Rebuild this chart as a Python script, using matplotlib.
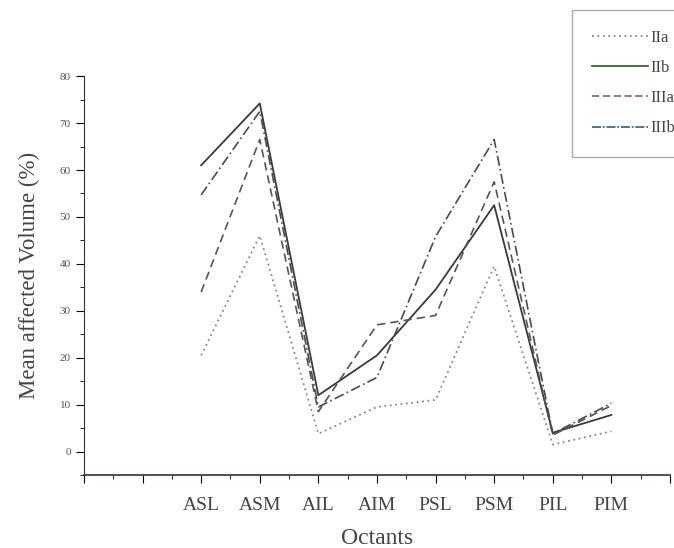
import matplotlib
matplotlib.use("Agg")
import matplotlib.pyplot as plt
from matplotlib.lines import Line2D
from matplotlib.ticker import MultipleLocator, FixedLocator
import numpy as np

plt.rcParams['font.family'] = ['Liberation Serif', 'DejaVu Serif']

octants = ['ASL', 'ASM', 'AIL', 'AIM', 'PSL', 'PSM', 'PIL', 'PIM']
IIa = [20.5, 46, 3.8, 9.5, 11, 39.5, 1.5, 4.3]
IIb = [61, 74.2, 12, 20.5, 34.5, 52.5, 4, 7.8]
IIIa = [34, 66.5, 8.5, 27, 29, 57.5, 3.5, 9.8]
IIIb = [54.7, 72.5, 9.5, 15.8, 45.8, 66.5, 3.8, 10.3]

x = np.arange(1, len(octants) + 1)

fig = plt.figure(figsize=(6.74, 5.48), dpi=100)
ax = fig.add_axes([0.1246, 0.1332, 0.8694, 0.7278])

ax.plot(x, IIa, color='#888888', linestyle=(0, (1, 2)), linewidth=1.3)
ax.plot(x, IIb, color='#3a3a3a', linestyle='-', linewidth=1.3)
ax.plot(x, IIIa, color='#555555', linestyle=(0, (5, 3)), linewidth=1.2)
ax.plot(x, IIIb, color='#4a4a4a', linestyle=(0, (6, 2, 1, 2)), linewidth=1.2)

ax.set_xlim(-1, 9)
ax.set_ylim(-5, 80)

ax.xaxis.set_major_locator(FixedLocator(np.arange(-1, 10)))
ax.xaxis.set_minor_locator(MultipleLocator(0.5))
ax.set_xticklabels([''] * 2 + octants + [''])
ax.yaxis.set_major_locator(MultipleLocator(10))
ax.yaxis.set_minor_locator(MultipleLocator(5))

ax.tick_params(axis='x', which='major', direction='out', length=6, labelsize=14,
               labelcolor='#444444', pad=10)
ax.tick_params(axis='x', which='minor', direction='out', length=3)
ax.tick_params(axis='y', which='major', direction='out', length=6, labelsize=8,
               labelcolor='#555555')
ax.tick_params(axis='y', which='minor', direction='out', length=3)

for s in ['top', 'right']:
    ax.spines[s].set_visible(False)
ax.spines['left'].set_color('#333333')
ax.spines['bottom'].set_color('#2c3a2c')
ax.spines['bottom'].set_linewidth(1.2)

ax.set_xlabel('Octants', fontsize=17, color='#444444', labelpad=10)
ax.set_ylabel('Mean affected Volume (%)', fontsize=16.5, color='#444444', labelpad=14)

handles = [
    Line2D([], [], color='#888888', linestyle=(0, (1, 2)), linewidth=1.3),
    Line2D([], [], color='#2e6b2e', linestyle='-', linewidth=1.3),
    Line2D([], [], color='#a0607a', linestyle=(0, (4, 2)), linewidth=1.3),
    Line2D([], [], color='#3a6d8a', linestyle=(0, (5, 1, 1, 1)), linewidth=1.3),
]
leg = fig.legend(handles, ['IIa', 'IIb', 'IIIa', 'IIIb'], loc='upper left',
                 bbox_to_anchor=(572 / 674, 1 - 10 / 548), fontsize=12,
                 handlelength=3.35, handletextpad=0.15, labelspacing=0.85,
                 borderpad=1.2, fancybox=False, framealpha=1,
                 edgecolor='#aaaaaa', borderaxespad=0)
for t in leg.get_texts():
    t.set_color('#444444')

fig.savefig('out.png', dpi=100)
